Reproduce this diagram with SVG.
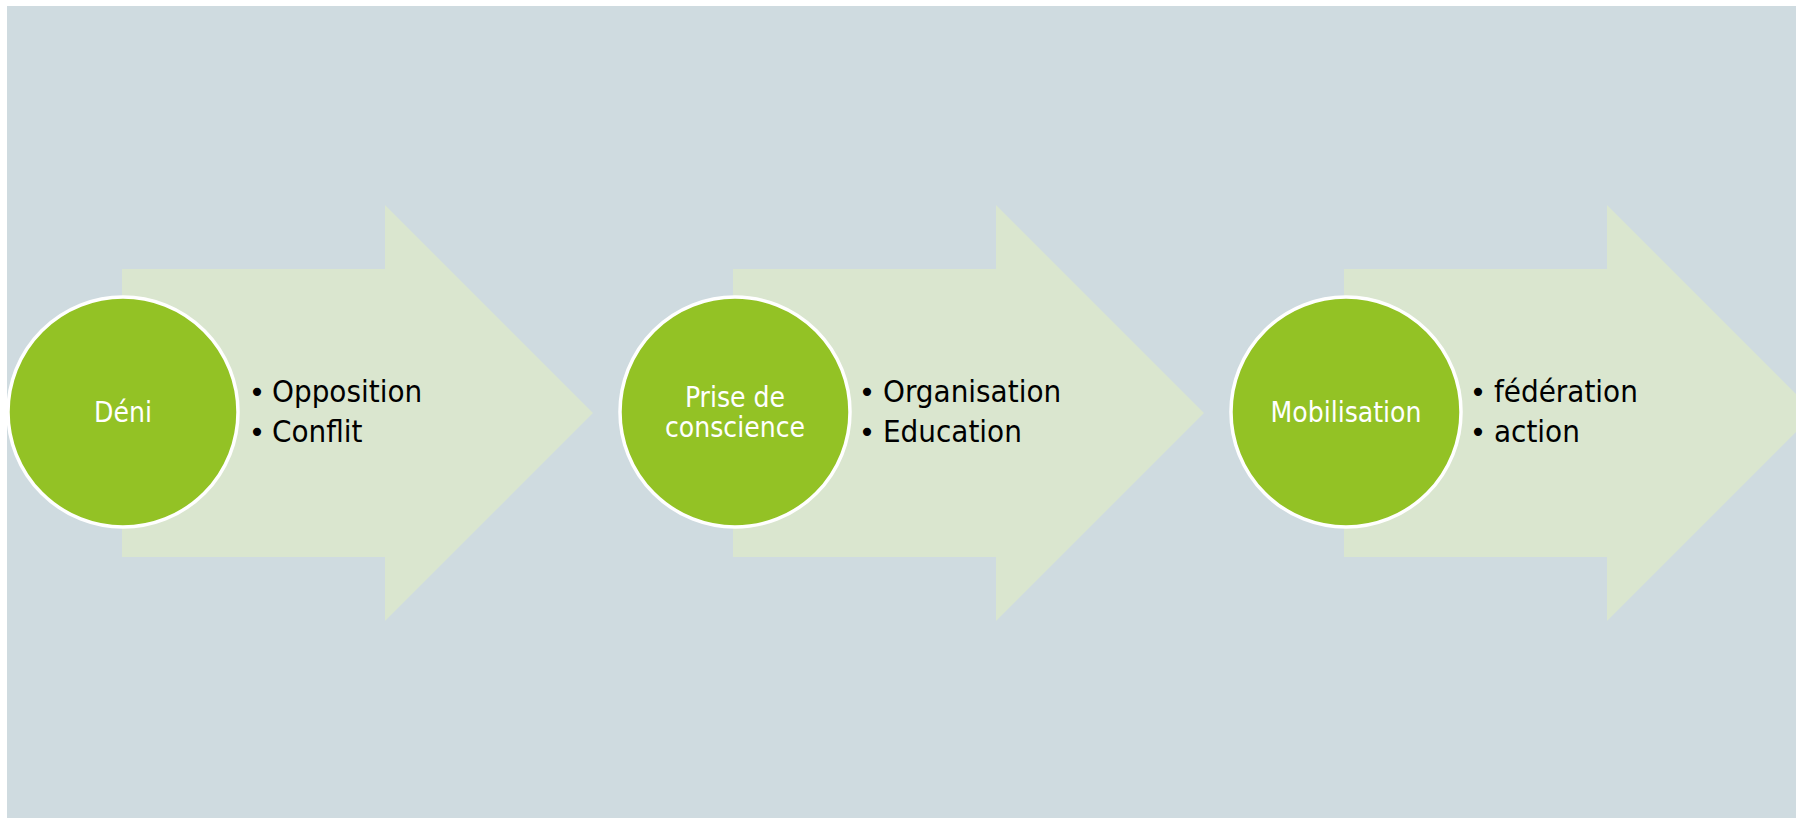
<svg xmlns="http://www.w3.org/2000/svg" width="1796" height="818" viewBox="0 0 1796 818">
  <style>
    .arrow { fill: #DAE6CF; }
    .stage { fill: #93C225; stroke: #FFFFFF; stroke-width: 3.5; }
    .title { fill: #FFFFFF; font-family: "DejaVu Sans Condensed", "DejaVu Sans", sans-serif; font-stretch: condensed; font-size: 28px; text-anchor: middle; }
    .item { fill: #000000; font-family: "DejaVu Sans Condensed", "DejaVu Sans", sans-serif; font-stretch: condensed; font-size: 31px; }
    .dot { fill: #000000; font-family: "DejaVu Sans", sans-serif; font-size: 28px; text-anchor: middle; }
  </style>
  <defs>
    <!-- block arrow: body 122..385 wide, head to a 45° point -->
    <path id="blockArrow" d="M0 0 H263 V-64 L471 144 L263 352 V288 H0 Z"/>
  </defs>

  <rect x="7" y="6" width="1789" height="812" fill="#CFDBE0"/>

  <g id="connectors">
    <use href="#blockArrow" class="arrow" x="122" y="269"/>
    <use href="#blockArrow" class="arrow" x="733" y="269"/>
    <use href="#blockArrow" class="arrow" x="1344" y="269"/>
  </g>

  <g id="stage-deni">
    <circle class="stage" cx="123" cy="412" r="115"/>
    <text class="title" x="123" y="422">Déni</text>
    <text class="dot" x="257" y="402">•</text>
    <text class="item" x="272" y="402">Opposition</text>
    <text class="dot" x="257" y="442">•</text>
    <text class="item" x="272" y="442">Conflit</text>
  </g>

  <g id="stage-prise">
    <circle class="stage" cx="735" cy="412" r="115"/>
    <text class="title" x="735" y="407">Prise de</text>
    <text class="title" x="735" y="437">conscience</text>
    <text class="dot" x="867" y="402">•</text>
    <text class="item" x="883" y="402">Organisation</text>
    <text class="dot" x="867" y="442">•</text>
    <text class="item" x="883" y="442">Education</text>
  </g>

  <g id="stage-mobilisation">
    <circle class="stage" cx="1346" cy="412" r="115"/>
    <text class="title" x="1346" y="422">Mobilisation</text>
    <text class="dot" x="1478" y="402">•</text>
    <text class="item" x="1494" y="402">fédération</text>
    <text class="dot" x="1478" y="442">•</text>
    <text class="item" x="1494" y="442">action</text>
  </g>
</svg>
